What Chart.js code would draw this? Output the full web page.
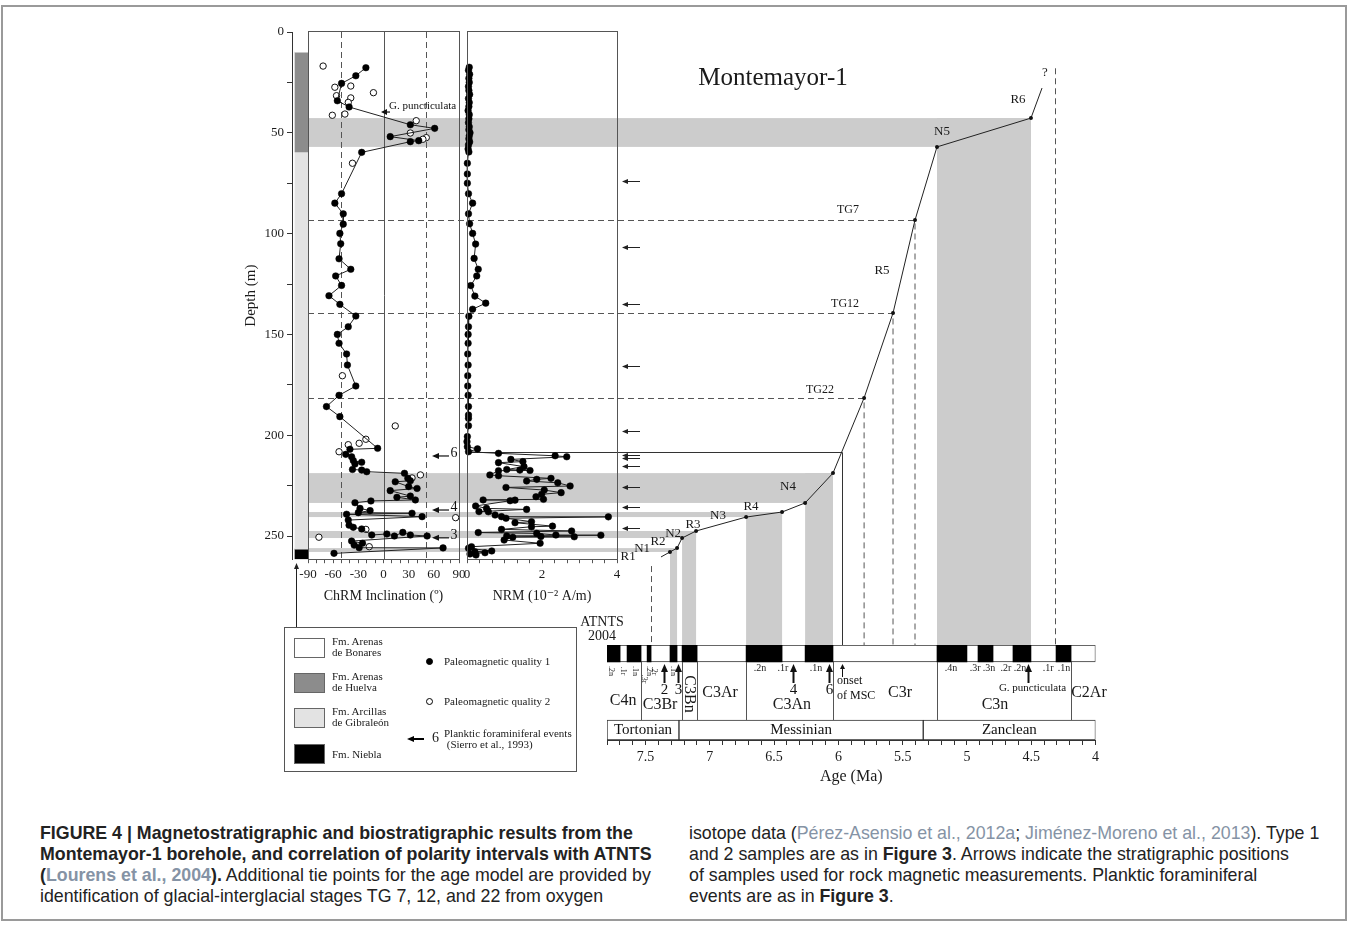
<!DOCTYPE html>
<html>
<head>
<meta charset="utf-8">
<title>Montemayor-1</title>
<script src="https://cdn.jsdelivr.net/npm/chart.js@4.4.1/dist/chart.umd.min.js"></script>
<style>
  body { margin: 0; background: #fff; width: 1349px; height: 927px; overflow: hidden; position: relative; }
  #frame { position: absolute; left: 1px; top: 5px; width: 1346px; height: 916px; border: 2px solid #9a9a9a; box-sizing: border-box; }
  canvas.layer { position: absolute; left: 0; top: 0; }
  #legend { position: absolute; left: 284px; top: 627px; width: 293px; height: 145px; border: 1px solid #555; box-sizing: border-box; font-family: "Liberation Serif", serif; color: #1a1a1a; }
  #legend .sw { position: absolute; left: 9px; width: 31px; height: 20px; border: 1px solid #666; box-sizing: border-box; }
  #legend .lt { position: absolute; left: 47px; font-size: 11px; line-height: 11px; white-space: nowrap; }
  #legend .dot { position: absolute; width: 7px; height: 7px; border-radius: 50%; border: 1px solid #000; box-sizing: border-box; }
  #caption { position: absolute; left: 0; top: 823px; width: 1349px; font-family: "Liberation Sans", Arial, sans-serif; font-size: 17.8px; line-height: 21px; color: #222; }
  #caption .col { position: absolute; top: 0; white-space: nowrap; }
  #caption .ref { color: #8593a5; }
</style>
</head>
<body>
<div id="frame"></div>
<canvas id="ageChart" class="layer" width="1349" height="800"></canvas>
<canvas id="lithChart" class="layer" width="1349" height="800"></canvas>
<canvas id="chrmChart" class="layer" width="1349" height="800"></canvas>
<canvas id="nrmChart" class="layer" width="1349" height="800"></canvas>
<canvas id="tsChart" class="layer" width="1349" height="800"></canvas>

<div id="legend">
  <div class="sw" style="top:10px;background:#fff"></div>
  <div class="lt" style="top:8px">Fm. Arenas<br>de Bonares</div>
  <div class="sw" style="top:45px;background:#8c8c8c"></div>
  <div class="lt" style="top:43px">Fm. Arenas<br>de Huelva</div>
  <div class="sw" style="top:80px;background:#e3e3e3"></div>
  <div class="lt" style="top:78px">Fm. Arcillas<br>de Gibraleón</div>
  <div class="sw" style="top:116px;background:#000"></div>
  <div class="lt" style="top:121px">Fm. Niebla</div>
  <div class="dot" style="left:141px;top:30px;background:#000"></div>
  <div class="lt" style="left:159px;top:28px">Paleomagnetic quality 1</div>
  <div class="dot" style="left:141px;top:70px;background:#fff"></div>
  <div class="lt" style="left:159px;top:68px">Paleomagnetic quality 2</div>
  <div style="position:absolute;left:128px;top:110px;width:11px;height:1.5px;background:#000"></div>
  <div style="position:absolute;left:122px;top:107.5px;width:0;height:0;border-right:7px solid #000;border-top:3.5px solid transparent;border-bottom:3.5px solid transparent"></div>
  <div class="lt" style="left:147px;top:103px;font-size:14px;line-height:14px">6</div>
  <div class="lt" style="left:159px;top:100px">Planktic foraminiferal events<br>&nbsp;(Sierro et al., 1993)</div>
</div>

<div id="caption">
  <div class="col" style="left:40px">
    <b>FIGURE 4 | Magnetostratigraphic and biostratigraphic results from the</b><br>
    <b>Montemayor-1 borehole, and correlation of polarity intervals with ATNTS</b><br>
    <b>(<span class="ref">Lourens et al., 2004</span>).</b> Additional tie points for the age model are provided by<br>
    identification of glacial-interglacial stages TG 7, 12, and 22 from oxygen
  </div>
  <div class="col" style="left:689px">
    isotope data (<span class="ref">Pérez-Asensio et al., 2012a</span>; <span class="ref">Jiménez-Moreno et al., 2013</span>). Type 1<br>
    and 2 samples are as in <b>Figure 3</b>. Arrows indicate the stratigraphic positions<br>
    of samples used for rock magnetic measurements. Planktic foraminiferal<br>
    events are as in <b>Figure 3</b>.
  </div>
</div>

<script>
// Data

// Lithology column (depth in m)
const lithNames = ['Fm. Arenas de Bonares', 'Fm. Arenas de Huelva', 'Fm. Arcillas de Gibraleón', 'Fm. Niebla'];
const lithTop = [0, 10, 59.5, 256.5];
const lithBase = [10, 59.5, 256.5, 261.5];
const lithColors = ['#ffffff', '#8c8c8c', '#e3e3e3', '#000000'];

// ChRM inclination, quality 1 (connected)
const q1Depth = [17.7, 21.7, 25.5, 34.1, 37.2, 46.0, 47.8, 51.9, 53.9, 54.4,
  59.7, 80.2, 84.9, 90.2, 95.3, 99.9, 105.0, 112.5, 117.7, 121.0,
  125.7, 130.8, 135.1, 140.9, 146.2, 150.0, 154.4, 159.7, 165.2, 175.6,
  180.2, 185.8, 190.8, 206.5, 207.0, 209.5, 210.7, 212.6, 213.4, 214.3,
  217.0, 217.3, 218.1, 218.9, 221.4, 222.6, 223.1, 225.5, 226.4, 227.5,
  230.2, 230.8, 232.1, 232.6, 233.5, 236.3, 237.4, 238.4, 238.7, 239.2,
  240.4, 242.1, 244.6, 245.7, 246.5, 249.5, 249.0, 250.0, 248.2, 249.5,
  250.0, 252.5, 253.6, 254.5, 255.8, 255.9, 258.6];
const q1Inc = [-21, -33, -50, -55, -41, 32, 61, 8, 42, 32,
  -26, -50, -58, -48, -48, -52, -51, -53, -39, -57,
  -50, -65, -52, -33, -42, -55, -53, -44, -43, -33,
  -53, -68, -52, -7, -40, -45, -38, -36, -26, -34,
  -37, -26, -20, 25, 29, 32, 14, 30, 40, 8,
  32, 16, 38, -15, -34, -28, -16, -30, 34, -44,
  46, -42, -41, -36, -26, -14, 4, 13, 23, 32,
  52, -38, -25, -35, -29, 71, -59];

// ChRM inclination, quality 2 (open circles)
const q2Depth = [16.9, 26.8, 27.4, 30.1, 31.6, 32.7, 34.9, 40.7, 41.3, 44.0,
  50.1, 52.4, 53.2, 65.1, 170.5, 195.4, 202.0, 204.0, 204.7, 208.2,
  219.7, 221.2, 240.9, 246.7, 250.6, 255.3];
const q2Inc = [-72, -39, -58, -12, -56, -39, -42, -46, -61, 39,
  32, 51, 47, -37, -49, 14, -21, -29, -42, -53,
  44, 34, 86, -21, -77, -17];

// NRM intensity (10^-2 A/m)
const nrmDepth = [17.5, 19, 21, 23, 25, 27, 29, 31, 33, 35,
  37, 39, 41, 43, 45, 47, 48.5, 50, 51.5, 53,
  54.5, 56, 58, 59.5, 65.1, 70.4, 75.0, 80.2, 84.9, 90.2,
  95.1, 99.9, 105.2, 112.3, 117.7, 121.0, 125.8, 131.0, 134.5, 137.5,
  141.0, 146.2, 150.0, 154.4, 159.7, 165.2, 170.5, 175.6, 180.2, 185.8,
  190.0, 191.6, 195.3, 200.7, 203.2, 205.7, 206.8, 208.2, 209.0, 210.2,
  210.7, 212.0, 213.1, 213.6, 215.6, 217.0, 217.3, 217.5, 217.6, 219.7,
  220.1, 221.4, 221.9, 222.7, 223.6, 225.2, 225.9, 227.2, 228.5, 229.3,
  230.5, 231.8, 232.1, 232.2, 232.5, 235.1, 236.3, 236.8, 237.9, 238.0,
  239.6, 240.4, 240.5, 241.2, 242.9, 243.4, 245.1, 245.4, 246.7, 247.5,
  248.3, 248.7, 249.5, 249.6, 250.0, 250.3, 250.4, 250.6, 252.0, 253.6,
  255.3, 256.1, 257.4, 257.8, 258.3, 258.9, 259.4];
const nrmValue = [0.06, 0.04, 0.07, 0.05, 0.06, 0.04, 0.05, 0.07, 0.04, 0.06,
  0.05, 0.03, 0.06, 0.05, 0.04, 0.06, 0.05, 0.08, 0.06, 0.05,
  0.07, 0.04, 0.03, 0.05, 0.01, 0.01, 0.01, 0.04, 0.15, 0.04,
  0.07, 0.15, 0.23, 0.19, 0.30, 0.26, 0.10, 0.21, 0.50, 0.15,
  0.05, 0.04, 0.03, 0.03, 0.02, 0.03, 0.02, 0.02, 0.03, 0.04,
  0.04, 0.04, 0.04, 0.01, 0.00, 0.01, 0.28, 0.04, 0.84, 2.35,
  2.66, 1.17, 1.49, 0.84, 1.52, 1.06, 1.41, 1.68, 0.84, 0.61,
  0.84, 2.24, 1.86, 1.59, 2.42, 2.75, 1.04, 2.06, 2.51, 1.99,
  1.84, 2.04, 0.43, 1.28, 1.15, 0.23, 0.52, 1.59, 0.32, 0.57,
  0.75, 0.92, 3.77, 1.04, 1.72, 1.28, 2.28, 1.72, 0.92, 2.79,
  0.30, 1.86, 2.37, 3.57, 1.06, 1.97, 2.86, 1.22, 0.99, 1.95,
  0.12, 0.04, 0.66, 0.21, 0.48, 0.08, 0.24];

// Age model tie points (age in Ma, depth in m)
const tieAges = [7.38, 7.310, 7.255, 7.216, 7.107, 6.718, 6.438, 6.259, 6.042, 5.80, 5.575, 5.404, 5.233, 4.502, 4.416];
const tieDepths = [260.4, 257.9, 256.0, 251.0, 247.5, 240.6, 238.1, 233.6, 218.8, 181.5, 139.4, 93.3, 57.0, 42.7, 27.8];
// normal polarity intervals as [older tie, younger tie]
const bandTies = [[1, 2], [3, 4], [5, 6], [7, 8], [12, 13]];
const tgNames = ['TG22', 'TG12', 'TG7'];
const tgTies = [9, 10, 11];
const mscAge = 5.97, mscDepth = 208.2;
const extentAges = [7.457, 4.315];
const extentDepths = [264.9, 18.0];

// Magnetozone labels [text, age, depth]
const zoneLabels = [['R1', 7.636, 260.4], ['N1', 7.527, 256.4], ['R2', 7.403, 253.0], ['N2', 7.286, 249.0],
  ['R3', 7.131, 244.5], ['N3', 6.937, 240.1], ['R4', 6.68, 235.6], ['N4', 6.392, 225.7],
  ['R5', 5.661, 118.1], ['N5', 5.194, 49.6], ['R6', 4.603, 33.7], ['?', 4.393, 20.3]];
const tgLabelPos = [[6.143, 177.6], [5.948, 134.9], [5.925, 88.3]];

// Rock magnetic samples and planktic foraminiferal events (depth, m)
const rockMagDepths = [73.9, 106.6, 134.9, 165.7, 197.9, 209.8, 211.3, 215.3, 225.7, 235.6, 246.0];
const foramEvents = ['G. puncticulata', '6', '4', '3'];
const foramDepths = [39.7, 210.3, 237.1, 250.9];

// ATNTS 2004 (Ma)
const chronOld = [7.80, 7.644, 7.488, 7.310, 7.216, 6.718, 6.259, 5.233, 4.914, 4.642, 4.307];
const chronYoung = [7.698, 7.535, 7.457, 7.255, 7.099, 6.438, 6.042, 5.000, 4.797, 4.502, 4.190];
const chronBounds = [7.535, 7.216, 7.099, 6.718, 6.042, 5.233, 4.190];
const chronNames = ['C4n', 'C3Br', 'C3Bn', 'C3Ar', 'C3An', 'C3r', 'C3n', 'C2Ar'];
const chronNameAges = [7.675, 7.387, 7.162, 6.921, 6.361, 5.521, 4.782, 4.051];
const subLabels = ['.2n', '.1r', '.1n', '.3r', '.2n', '.2r', '.1n',
  '.2n', '.1r', '.1n', '.4n', '.3r', '.3n', '.2r', '.2n', '.1r', '.1n'];
const subLabelAges = [7.765, 7.672, 7.579, 7.51, 7.475, 7.43, 7.285,
  6.609, 6.431, 6.174, 5.124, 4.937, 4.828, 4.696, 4.587, 4.369, 4.245];
const subLabelTurned = [true, true, true, true, true, true, true,
  false, false, false, false, false, false, false, false, false, false];
const stageNames = ['Tortonian', 'Messinian', 'Zanclean'];
const stageOld = [7.80, 7.24, 5.34];
const stageYoung = [7.24, 5.34, 4.0];
const eventArrowLabels = ['2', '3', '4', '6', 'G. puncticulata'];
const eventArrowAges = [7.356, 7.247, 6.353, 6.073, 4.525];

// Layout (page pixels)
const W = 1349, H = 800;
const DEPTH_MAX = 261.5;
const Y_TOP = 32, Y_BOT = 559.2;
const LITH_RIGHT = 308, CHRM_LEFT = 308, CHRM_RIGHT = 459, NRM_LEFT = 467, NRM_RIGHT = 617;
const AGE_LEFT = 607, AGE_RIGHT = 1095.5;
const BAR_TOP = 645, BAR_BOTTOM = 740;
const SERIF = '"Liberation Serif", "DejaVu Serif", serif';
const INK = '#1a1a1a', LINE = '#555', BAND = '#cccccc';

Chart.defaults.font.family = SERIF;
Chart.defaults.color = INK;

function pad(l, t, r, b) {
  return { left: l, top: t, right: W - r, bottom: H - b };
}

function arrow(ctx, x1, y1, x2, y2, head, half) {
  const a = Math.atan2(y2 - y1, x2 - x1);
  const bx = x2 - head * Math.cos(a), by = y2 - head * Math.sin(a);
  ctx.beginPath(); ctx.moveTo(x1, y1); ctx.lineTo(bx, by); ctx.stroke();
  ctx.beginPath(); ctx.moveTo(x2, y2);
  ctx.lineTo(bx + half * Math.sin(a), by - half * Math.cos(a));
  ctx.lineTo(bx - half * Math.sin(a), by + half * Math.cos(a));
  ctx.closePath(); ctx.fill();
}

function text(ctx, s, x, y, size, align, rot) {
  ctx.save();
  ctx.font = size + 'px ' + SERIF;
  ctx.textAlign = align || 'center';
  ctx.textBaseline = 'middle';
  ctx.translate(x, y);
  if (rot) ctx.rotate(rot);
  ctx.fillText(s, 0, 0);
  ctx.restore();
}

const baseOpts = {
  responsive: false,
  animation: false,
  devicePixelRatio: 1,
  plugins: { legend: { display: false }, tooltip: { enabled: false } }
};

// Age model: bands, tie lines and labels
const agePlugin = {
  id: 'ageDecor',
  beforeDatasetsDraw(chart) {
    const { ctx, scales: { x, y } } = chart;
    const xp = a => x.getPixelForValue(a), yp = d => y.getPixelForValue(d);
    ctx.save();
    ctx.fillStyle = BAND;
    bandTies.forEach(([o, n]) => {
      const xo = xp(tieAges[o]), xn = xp(tieAges[n]);
      const yb = yp(tieDepths[o]), yt = yp(tieDepths[n]);
      ctx.fillRect(LITH_RIGHT, yt, xn - LITH_RIGHT, yb - yt);
      ctx.fillRect(xo, yt, xn - xo, BAR_TOP - yt);
    });
    ctx.strokeStyle = LINE;
    ctx.lineWidth = 1;
    ctx.setLineDash([6, 4]);
    tgTies.forEach(i => {
      const px = xp(tieAges[i]), py = Math.round(yp(tieDepths[i])) + 0.5;
      ctx.beginPath(); ctx.moveTo(CHRM_LEFT, py); ctx.lineTo(px, py); ctx.lineTo(px, BAR_TOP); ctx.stroke();
    });
    extentAges.forEach((a, i) => {
      const px = Math.round(xp(a)) + 0.5;
      ctx.beginPath(); ctx.moveTo(px, yp(extentDepths[i])); ctx.lineTo(px, BAR_TOP); ctx.stroke();
    });
    ctx.setLineDash([]);
    ctx.strokeStyle = '#333';
    const my = Math.round(yp(mscDepth)) + 0.5, mx = Math.round(xp(mscAge)) + 0.5;
    ctx.beginPath(); ctx.moveTo(NRM_LEFT, my); ctx.lineTo(mx, my); ctx.lineTo(mx, BAR_TOP); ctx.stroke();
    ctx.restore();
  },
  afterDatasetsDraw(chart) {
    const { ctx, scales: { x, y } } = chart;
    const xp = a => x.getPixelForValue(a), yp = d => y.getPixelForValue(d);
    ctx.save();
    ctx.fillStyle = INK;
    zoneLabels.forEach(([s, a, d]) => text(ctx, s, xp(a), yp(d), 13));
    tgNames.forEach((s, i) => text(ctx, s, xp(tgLabelPos[i][0]), yp(tgLabelPos[i][1]), 12));
    text(ctx, 'Montemayor-1', 773, 78, 25);
    text(ctx, 'ATNTS', 602, 622, 14);
    text(ctx, '2004', 602, 636, 14);
    ctx.strokeStyle = '#222';
    ctx.fillStyle = '#222';
    ctx.lineWidth = 1;
    rockMagDepths.forEach(d => {
      const py = Math.round(yp(d)) + 0.5;
      arrow(ctx, 640, py, 622, py, 6, 2.5);
    });
    arrow(ctx, 296.5, 627, 296.5, 563, 6, 2.5);
    ctx.restore();
  }
};

new Chart(document.getElementById('ageChart'), {
  type: 'scatter',
  data: {
    datasets: [{
      label: 'Age model',
      data: tieAges.map((a, i) => ({ x: a, y: tieDepths[i] })),
      showLine: true,
      borderColor: '#222',
      borderWidth: 1,
      pointRadius: tieAges.map((a, i) => (i === 0 || i === tieAges.length - 1) ? 0 : 2),
      pointBackgroundColor: '#111',
      pointBorderWidth: 0,
      clip: false
    }]
  },
  options: {
    ...baseOpts,
    layout: { padding: pad(AGE_LEFT, Y_TOP, AGE_RIGHT, Y_BOT) },
    scales: {
      x: { type: 'linear', reverse: true, min: 4, max: 7.8, display: false },
      y: { type: 'linear', reverse: true, min: 0, max: DEPTH_MAX, display: false }
    }
  },
  plugins: [agePlugin]
});

// Lithology column with depth axis
new Chart(document.getElementById('lithChart'), {
  type: 'bar',
  data: {
    labels: ['Lithology'],
    datasets: lithNames.map((n, i) => ({
      label: n,
      data: [[lithTop[i], lithBase[i]]],
      backgroundColor: lithColors[i],
      borderWidth: 0,
      barThickness: 13,
      grouped: false
    }))
  },
  options: {
    ...baseOpts,
    layout: { padding: pad(292 - 50, Y_TOP, 311, Y_BOT) },
    scales: {
      x: { display: false, offset: true },
      y: {
        type: 'linear', reverse: true, min: 0, max: DEPTH_MAX, position: 'left',
        afterFit: s => { s.width = 50; },
        border: { color: '#333' },
        grid: { drawOnChartArea: false, tickLength: 5, color: '#333' },
        ticks: {
          stepSize: 25, includeBounds: false, autoSkip: false, padding: 3,
          font: { size: 13 }, color: INK,
          callback: v => (v % 50 === 0 ? String(v) : '')
        },
        title: { display: true, text: 'Depth (m)', font: { size: 15 }, color: INK, padding: { top: 0, bottom: 2 } }
      }
    }
  }
});

// Panel frame plugin
const framePlugin = {
  id: 'frame',
  afterDraw(chart) {
    const { ctx, chartArea: a } = chart;
    ctx.save();
    ctx.strokeStyle = LINE;
    ctx.lineWidth = 1;
    ctx.strokeRect(Math.round(a.left) + 0.5, Math.round(a.top) - 0.5, Math.round(a.right - a.left), Math.round(a.bottom - a.top) + 1);
    ctx.restore();
  }
};

const chrmPlugin = {
  id: 'chrmDecor',
  beforeDatasetsDraw(chart) {
    const { ctx, chartArea: a, scales: { x } } = chart;
    ctx.save();
    ctx.strokeStyle = LINE;
    ctx.lineWidth = 1;
    const x0 = Math.round(x.getPixelForValue(0)) + 0.5;
    ctx.beginPath(); ctx.moveTo(x0, a.top); ctx.lineTo(x0, a.bottom); ctx.stroke();
    ctx.setLineDash([6, 4]);
    [-51, 51].forEach(v => {
      const px = Math.round(x.getPixelForValue(v)) + 0.5;
      ctx.beginPath(); ctx.moveTo(px, a.top); ctx.lineTo(px, a.bottom); ctx.stroke();
    });
    ctx.restore();
  },
  afterDatasetsDraw(chart) {
    const { ctx, scales: { y } } = chart;
    ctx.save();
    ctx.strokeStyle = '#111';
    ctx.fillStyle = '#111';
    ctx.lineWidth = 1.2;
    foramDepths.forEach((d, i) => {
      const py = y.getPixelForValue(d);
      if (i === 0) {
        arrow(ctx, 390, py, 381, py, 6, 3);
        text(ctx, foramEvents[i], 389, py - 6, 11, 'left');
      } else {
        arrow(ctx, 449, py, 432, py, 7, 3);
        text(ctx, foramEvents[i], 454, py - 3, 14);
      }
    });
    ctx.restore();
  }
};

const depthAxis = { type: 'linear', reverse: true, min: 0, max: DEPTH_MAX, display: false };

function bottomAxis(min, max, step, labelFn, title) {
  return {
    type: 'linear', min: min, max: max, position: 'bottom',
    afterFit: s => { s.height = 50; },
    border: { color: LINE },
    grid: { drawOnChartArea: false, tickLength: 4, color: LINE },
    ticks: { stepSize: step, includeBounds: false, autoSkip: false, maxRotation: 0, padding: 4, font: { size: 13 }, color: INK, callback: labelFn },
    title: { display: true, text: title, font: { size: 14 }, color: INK }
  };
}

new Chart(document.getElementById('chrmChart'), {
  type: 'scatter',
  data: {
    datasets: [{
      label: 'Paleomagnetic quality 1',
      data: q1Depth.map((d, i) => ({ x: q1Inc[i], y: d })),
      showLine: true, borderColor: '#222', borderWidth: 1,
      pointRadius: 3.3, pointBackgroundColor: '#000', pointBorderColor: '#000', pointBorderWidth: 0.5,
      clip: false
    }, {
      label: 'Paleomagnetic quality 2',
      data: q2Depth.map((d, i) => ({ x: q2Inc[i], y: d })),
      showLine: false,
      pointRadius: 3.2, pointBackgroundColor: '#fff', pointBorderColor: '#111', pointBorderWidth: 1,
      clip: false
    }]
  },
  options: {
    ...baseOpts,
    layout: { padding: pad(CHRM_LEFT, Y_TOP, CHRM_RIGHT, Y_BOT + 50) },
    scales: {
      x: bottomAxis(-90, 90, 10, v => (v % 30 === 0 ? String(v) : ''), 'ChRM Inclination (º)'),
      y: depthAxis
    }
  },
  plugins: [chrmPlugin, framePlugin]
});

new Chart(document.getElementById('nrmChart'), {
  type: 'scatter',
  data: {
    datasets: [{
      label: 'NRM',
      data: nrmDepth.map((d, i) => ({ x: nrmValue[i], y: d })),
      showLine: true, borderColor: '#222', borderWidth: 1,
      pointRadius: 3.3, pointBackgroundColor: '#000', pointBorderColor: '#000', pointBorderWidth: 0.5,
      clip: false
    }]
  },
  options: {
    ...baseOpts,
    layout: { padding: pad(NRM_LEFT, Y_TOP, NRM_RIGHT, Y_BOT + 50) },
    scales: {
      x: bottomAxis(0, 4, 1 / 3, v => {
        const r = Math.round(v);
        return (Math.abs(v - r) < 1e-6 && r % 2 === 0) ? String(r) : '';
      }, 'NRM (10⁻² A/m)'),
      y: depthAxis
    }
  },
  plugins: [framePlugin]
});

// Time scale (ATNTS 2004) and stages
const tsPlugin = {
  id: 'tsDecor',
  afterDatasetsDraw(chart) {
    const { ctx, chartArea: { top }, scales: { x } } = chart;
    const xp = a => x.getPixelForValue(a);
    ctx.save();
    ctx.strokeStyle = LINE;
    ctx.lineWidth = 1;
    chronBounds.forEach(a => {
      const px = Math.round(xp(a)) + 0.5;
      ctx.beginPath(); ctx.moveTo(px, top + 17); ctx.lineTo(px, top + 75); ctx.stroke();
    });
    ctx.fillStyle = INK;
    subLabels.forEach((s, i) => {
      if (subLabelTurned[i]) text(ctx, s, xp(subLabelAges[i]), top + (s === '.3r' ? 34 : 26), 8, 'center', Math.PI / 2);
      else text(ctx, s, xp(subLabelAges[i]), top + 23, 10);
    });
    chronNames.forEach((s, i) => {
      const low = (s === 'C4n' || s === 'C3Br' || s === 'C3An' || s === 'C3n');
      if (s === 'C3Bn') text(ctx, s, xp(chronNameAges[i]), top + 49, 16, 'center', Math.PI / 2);
      else text(ctx, s, xp(chronNameAges[i]), top + (low ? (s === 'C4n' ? 56 : 60) : 48), 16);
    });
    ctx.strokeStyle = '#111';
    ctx.fillStyle = '#111';
    eventArrowLabels.forEach((s, i) => {
      const px = Math.round(xp(eventArrowAges[i])) + 0.5;
      ctx.lineWidth = 2;
      arrow(ctx, px, top + 38, px, top + 19, 8, 3.5);
      if (s.length === 1) text(ctx, s, px, top + 45, 15);
      else text(ctx, s, px + 4, top + 43, 11);
    });
    ctx.lineWidth = 1;
    const mx = Math.round(xp(mscAge)) + 0.5;
    arrow(ctx, mx, top + 32, mx, top + 19, 5, 2.5);
    text(ctx, 'onset', 837, top + 36, 12, 'left');
    text(ctx, 'of MSC', 837, top + 51, 12, 'left');
    stageNames.forEach((s, i) => text(ctx, s, xp((stageOld[i] + stageYoung[i]) / 2), top + 85, 15));
    ctx.restore();
  }
};

new Chart(document.getElementById('tsChart'), {
  type: 'bar',
  data: {
    datasets: [{
      label: 'Normal polarity',
      data: chronOld.map((a, i) => ({ x: [a, chronYoung[i]], y: 8.5 })),
      backgroundColor: '#000', borderWidth: 0, barThickness: 17, grouped: false, order: 1
    }, {
      label: 'ATNTS 2004',
      data: [{ x: [7.8, 4.0], y: 8.5 }],
      backgroundColor: '#fff', borderColor: '#333', borderWidth: 1, borderSkipped: false,
      barThickness: 17, grouped: false, order: 2
    }, {
      label: 'Stages',
      data: stageOld.map((a, i) => ({ x: [a, stageYoung[i]], y: 85 })),
      backgroundColor: '#fff', borderColor: '#333', borderWidth: 1, borderSkipped: false,
      barThickness: 20, grouped: false, order: 2
    }]
  },
  options: {
    ...baseOpts,
    indexAxis: 'y',
    layout: { padding: pad(AGE_LEFT, BAR_TOP, AGE_RIGHT, BAR_BOTTOM + 50) },
    scales: {
      x: {
        type: 'linear', reverse: true, min: 4, max: 7.8, position: 'bottom',
        afterFit: s => { s.height = 50; },
        border: { color: '#333' },
        grid: { drawOnChartArea: false, tickLength: 5, color: '#333' },
        ticks: {
          stepSize: 0.1, includeBounds: false, autoSkip: false, maxRotation: 0, padding: 4,
          font: { size: 14 }, color: INK,
          callback: v => { const r = Math.round(v * 10); return r % 5 === 0 ? String(r / 10) : ''; }
        },
        title: { display: true, text: 'Age (Ma)', font: { size: 16 }, color: INK }
      },
      y: { type: 'linear', reverse: true, min: 0, max: 95, offset: false, display: false }
    }
  },
  plugins: [tsPlugin]
});
</script>
</body>
</html>
